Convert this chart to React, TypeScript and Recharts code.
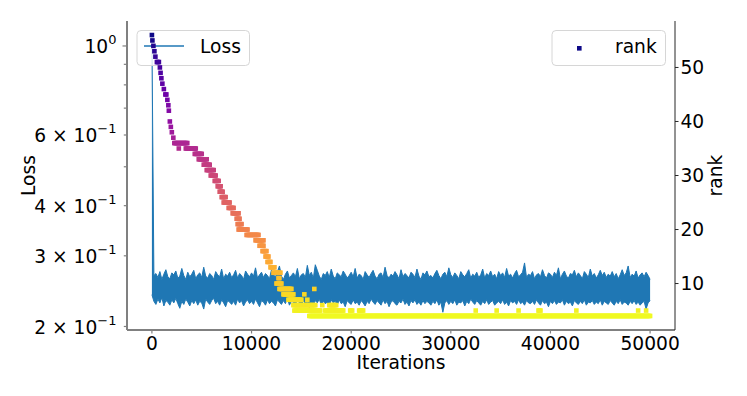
import React from 'react';
import { ComposedChart, Area, Scatter, XAxis, YAxis } from 'recharts';

// ---------- data ----------
// loss envelope per 200-iteration window (thousandths): upper and lower edge of the noisy band
const lossStep = 200;
const lossHighMilli = [
  1065,
  268, 271, 265, 274, 262, 270, 277, 266, 263, 272,
  269, 275, 264, 267, 279, 268, 262, 273, 266, 270,
  276, 263, 269, 272, 265, 281, 267, 264, 271, 268,
  262, 274, 269, 266, 278, 263, 270, 267, 273, 265,
  269, 276, 264, 271, 268, 262, 275, 270, 266, 272,
  267, 280, 264, 269, 273, 265, 271, 268, 263, 277,
  269, 266, 274, 283, 267, 262, 270, 275, 264, 268,
  272, 266, 279, 263, 269, 271, 265, 284, 268, 273,
  264, 285, 276, 267, 262, 271, 268, 274, 265, 278,
  267, 263, 272, 269, 266, 275, 270, 264, 268, 273,
  266, 279, 264, 270, 268, 262, 274, 269, 265, 271,
  276, 267, 263, 270, 272, 265, 281, 268, 264, 270,
  267, 274, 269, 263, 277, 266, 271, 268, 264, 273,
  270, 265, 278, 267, 262, 272, 269, 275, 266, 268,
  264, 271, 276, 268, 263, 270, 273, 266, 280, 269,
  265, 272, 268, 263, 274, 269, 266, 271, 277, 264,
  270, 267, 273, 265, 269, 278, 264, 271, 268, 275,
  266, 270, 263, 274, 268, 272, 265, 279, 267, 270,
  264, 271, 276, 266, 269, 273, 288, 265, 270, 268,
  274, 263, 269, 271, 266, 277, 268, 264, 272, 270,
  265, 273, 268, 280, 263, 270, 275, 267, 264, 271,
  269, 276, 266, 272, 268, 263, 274, 270, 265, 278,
  267, 271, 264, 269, 276, 268, 273, 265, 270, 267,
  274, 266, 271, 263, 269, 277, 268, 272, 283, 265,
  270, 267, 275, 264, 269, 272, 266, 273, 268, 262,
];
const lossLowMilli = [
  240,
  231, 227, 234, 229, 236, 225, 232, 230, 226, 233,
  229, 235, 228, 222, 231, 227, 234, 230, 225, 232,
  228, 233, 226, 231, 229, 221, 234, 230, 227, 232,
  235, 228, 231, 226, 233, 229, 224, 232, 230, 227,
  231, 226, 234, 229, 232, 225, 230, 233, 228, 231,
  227, 234, 229, 224, 232, 230, 226, 233, 228, 231,
  229, 225, 233, 230, 227, 232, 228, 235, 226, 231,
  230, 227, 233, 229, 225, 232, 228, 231, 223, 230,
  227, 232, 229, 234, 226, 231, 228, 230, 225, 233,
  229, 231, 226, 233, 228, 230, 224, 232, 229, 227,
  233, 228, 230, 226, 232, 229, 225, 231, 228, 234,
  230, 227, 232, 229, 226, 233, 228, 231, 224, 230,
  232, 228, 226, 231, 229, 234, 227, 230, 225, 232,
  229, 233, 227, 230, 226, 232, 228, 231, 229, 226,
  231, 228, 233, 226, 230, 217, 229, 232, 227, 231,
  228, 233, 226, 230, 229, 232, 225, 231, 228, 234,
  230, 227, 232, 229, 226, 231, 228, 233, 227, 230,
  232, 226, 229, 231, 228, 233, 227, 230, 225, 232,
  229, 231, 227, 233, 228, 230, 226, 232, 229, 228,
  231, 227, 233, 229, 226, 232, 228, 230, 224, 231,
  228, 232, 227, 230, 229, 233, 226, 231, 228, 230,
  225, 232, 229, 227, 231, 228, 233, 226, 230, 229,
  232, 227, 230, 228, 233, 226, 231, 229, 227, 232,
  229, 226, 231, 228, 233, 227, 230, 229, 226, 231,
  228, 232, 227, 230, 226, 229, 231, 221, 229, 232,
];

// rank recorded as runs of constant value (start iteration, end iteration, rank)
const rankStep = 100;
const rankRunStart = [
  0, 50, 150, 250, 350, 500, 800, 870, 950, 1050, 1200, 1350, 1550, 1650, 1700,
  1800, 1900, 2000, 2150, 2250, 2700, 3400, 4300, 4700, 5200, 5500, 5900, 6300,
  6600, 6800, 7000, 7200, 7700, 8100, 8500, 8600, 8700, 9500, 10400, 10800, 11100,
  11400, 11600, 11900, 12200, 12700, 12500, 12800, 16300, 13200, 15300, 13700,
  15600, 14200, 17100, 17800, 14300, 17400, 19900, 20800, 32500, 34600, 36800,
  38800, 42600, 48800, 49600, 15800,
];
const rankRunEnd = [
  0, 50, 150, 250, 350, 750, 800, 870, 950, 1050, 1200, 1500, 1550, 1650, 1700,
  1800, 1900, 2000, 2150, 3600, 2700, 4400, 5000, 5500, 5800, 6200, 6400, 6700,
  6900, 7100, 7400, 7800, 8200, 8700, 8800, 9000, 9600, 10700, 11200, 11200, 11500,
  11700, 11900, 12300, 12900, 12800, 13000, 14000, 16300, 14200, 15300, 15000,
  15600, 16400, 17100, 18500, 16900, 19200, 20100, 21200, 32500, 34600, 36800,
  39000, 42600, 48800, 49600, 50000,
];
const rankRunValue = [
  56, 55, 54, 53, 52, 51, 50, 49, 48, 47, 46, 45, 44, 43, 42,
  40, 39, 38, 37, 36, 35, 35, 34, 33, 32, 31, 30, 29,
  28, 27, 26, 25, 24, 23, 22, 21, 20, 19, 18, 17, 16,
  15, 14, 13, 12, 11, 10, 9, 9, 8, 8, 7,
  7, 6, 6, 6, 5, 5, 5, 5, 5, 5, 5,
  5, 5, 5, 5, 4,
];

const xTicks = [0, 10000, 20000, 30000, 40000, 50000];
const lossTicks = [0.2, 0.3, 0.4, 0.5, 0.6, 0.7, 0.8, 0.9, 1.0];
const lossTickLabels: Record<string, [string, string]> = {
  '0.2': ['2 × 10', '−1'],
  '0.3': ['3 × 10', '−1'],
  '0.4': ['4 × 10', '−1'],
  '0.6': ['6 × 10', '−1'],
  '1': ['10', '0'],
};
const rankTicks = [10, 20, 30, 40, 50];

const lossData = lossHighMilli.map((h, i) => ({
  iter: i * lossStep,
  band: [lossLowMilli[i] / 1000, h / 1000],
}));
const rankData: { iter: number; rank: number }[] = [];
rankRunStart.forEach((s, i) => {
  for (let it = s; it <= rankRunEnd[i]; it += rankStep) {
    rankData.push({ iter: it, rank: rankRunValue[i] });
  }
});

// ---------- style ----------
const W = 747;
const H = 396;
const FONT = 'DejaVu Sans';
const FS = 18.67;
const PLOT_L = 127;
const PLOT_R = 675;
const PLOT_T = 21;
const PLOT_B = 330;
const SPINE_GRAY = '#808080';
const SPINE_DARK = '#262626';

const PLASMA = ['#0d0887', '#41049d', '#6a00a8', '#8f0da4', '#b12a90', '#cc4778',
  '#e16462', '#f2844b', '#fca636', '#fcce25', '#f0f921'];
function hexToRgb(h: string) {
  return [parseInt(h.slice(1, 3), 16), parseInt(h.slice(3, 5), 16), parseInt(h.slice(5, 7), 16)];
}
function plasma(t: number) {
  const c = Math.max(0, Math.min(1, t)) * 10;
  const i = Math.min(9, Math.floor(c));
  const f = c - i;
  const a = hexToRgb(PLASMA[i]);
  const b = hexToRgb(PLASMA[i + 1]);
  const m = a.map((v, k) => Math.round(v + (b[k] - v) * f));
  return `rgb(${m[0]},${m[1]},${m[2]})`;
}
const RANK_MIN = 4;
const RANK_MAX = 56;

const LossTick = (props: any) => {
  const { y, payload } = props;
  const key = String(payload.value);
  const lab = lossTickLabels[key];
  const major = payload.value === 1;
  const len = major ? 3.5 : 2.2;
  return (
    <g>
      <line x1={PLOT_L - 1 - len} x2={PLOT_L - 1} y1={y} y2={y} stroke={SPINE_GRAY} strokeWidth={1.2} />
      {lab ? (
        <text x={116.5} y={y + 7.5} textAnchor="end" fontFamily={FONT} fontSize={FS} fill="#000">
          <tspan>{lab[0]}</tspan>
          <tspan dy={-9} fontSize={13}>{lab[1]}</tspan>
        </text>
      ) : null}
    </g>
  );
};

const RankMarker = (props: any) => {
  const { cx, cy, payload } = props;
  if (cx == null || cy == null) return <g />;
  const col = plasma((RANK_MAX - payload.rank) / (RANK_MAX - RANK_MIN));
  return <rect x={cx - 2.3} y={cy - 2.3} width={4.6} height={4.6} fill={col} />;
};

const tickFont = { fill: '#000', fontSize: FS, fontFamily: FONT };

export default function App() {
  return (
    <div style={{ position: 'absolute', left: 0, top: 0, width: W, height: H, background: '#fff' }}>
      {/* layer 1: loss band with left axis and x axis */}
      <div style={{ position: 'absolute', left: 0, top: 0 }}>
        <ComposedChart width={W} height={H} data={lossData}
          margin={{ top: PLOT_T, right: W - PLOT_R, bottom: 0, left: 0 }}>
          <XAxis
            dataKey="iter"
            type="number"
            domain={[-2500, 52500]}
            allowDataOverflow
            ticks={xTicks}
            interval={0}
            height={H - PLOT_B}
            tick={tickFont}
            tickSize={3.5}
            tickMargin={3}
            tickLine={{ stroke: SPINE_GRAY, strokeWidth: 1.2 }}
            axisLine={{ stroke: SPINE_GRAY, strokeWidth: 2 }}
          />
          <YAxis
            yAxisId="loss"
            scale="log"
            type="number"
            domain={[0.196, 1.154]}
            allowDataOverflow
            ticks={lossTicks}
            interval={0}
            width={PLOT_L}
            tick={<LossTick />}
            tickLine={false}
            axisLine={{ stroke: SPINE_GRAY, strokeWidth: 2 }}
          />
          <Area
            yAxisId="loss"
            dataKey="band"
            type="linear"
            stroke="#1f77b4"
            strokeWidth={1}
            fill="#1f77b4"
            fillOpacity={1}
            dot={false}
            activeDot={false}
            isAnimationActive={false}
          />
        </ComposedChart>
      </div>

      {/* layer 2: Loss legend (between loss band and rank markers) */}
      <svg width={W} height={H} style={{ position: 'absolute', left: 0, top: 0 }}>
        <rect x={137} y={30.5} width={112.5} height={35} rx={4} ry={4}
          fill="rgba(255,255,255,0.8)" stroke="#d6d6d6" strokeWidth={1} />
        <line x1={144} x2={184} y1={46} y2={46} stroke="#1f77b4" strokeWidth={1.5} />
        <text x={200} y={53.3} fontFamily={FONT} fontSize={FS} fill="#000">Loss</text>
      </svg>

      {/* layer 3: rank markers with right axis */}
      <div style={{ position: 'absolute', left: 0, top: 0 }}>
        <ComposedChart width={W} height={H} margin={{ top: PLOT_T, right: 0, bottom: H - PLOT_B, left: PLOT_L }}>
          <XAxis
            xAxisId="top"
            orientation="top"
            dataKey="iter"
            type="number"
            domain={[-2500, 52500]}
            allowDataOverflow
            height={0}
            tick={false}
            tickLine={false}
            axisLine={{ stroke: SPINE_GRAY, strokeWidth: 2 }}
          />
          <YAxis
            yAxisId="rank"
            orientation="right"
            dataKey="rank"
            type="number"
            domain={[1.4, 58.6]}
            allowDataOverflow
            ticks={rankTicks}
            interval={0}
            width={W - PLOT_R}
            tick={tickFont}
            tickSize={3.5}
            tickMargin={2}
            tickLine={{ stroke: SPINE_DARK, strokeWidth: 1 }}
            axisLine={{ stroke: SPINE_DARK, strokeWidth: 1 }}
          />
          <Scatter
            xAxisId="top"
            yAxisId="rank"
            data={rankData}
            dataKey="rank"
            shape={<RankMarker />}
            isAnimationActive={false}
          />
        </ComposedChart>
      </div>

      {/* layer 4: rank legend and axis titles */}
      <svg width={W} height={H} style={{ position: 'absolute', left: 0, top: 0 }}>
        <rect x={552} y={30.5} width={113.5} height={35} rx={4} ry={4}
          fill="rgba(255,255,255,0.8)" stroke="#d6d6d6" strokeWidth={1} />
        <rect x={577} y={46} width={4.6} height={4.6} fill={PLASMA[0]} />
        <text x={615} y={53.3} fontFamily={FONT} fontSize={FS} fill="#000">rank</text>
        <text x={(PLOT_L + PLOT_R) / 2} y={369} textAnchor="middle" fontFamily={FONT} fontSize={FS} fill="#000">Iterations</text>
        <text x={35} y={(PLOT_T + PLOT_B) / 2} textAnchor="middle" fontFamily={FONT} fontSize={FS} fill="#000"
          transform={`rotate(-90, 35, ${(PLOT_T + PLOT_B) / 2})`}>Loss</text>
        <text x={722} y={(PLOT_T + PLOT_B) / 2} textAnchor="middle" fontFamily={FONT} fontSize={FS} fill="#000"
          transform={`rotate(-90, 722, ${(PLOT_T + PLOT_B) / 2})`}>rank</text>
      </svg>
    </div>
  );
}
